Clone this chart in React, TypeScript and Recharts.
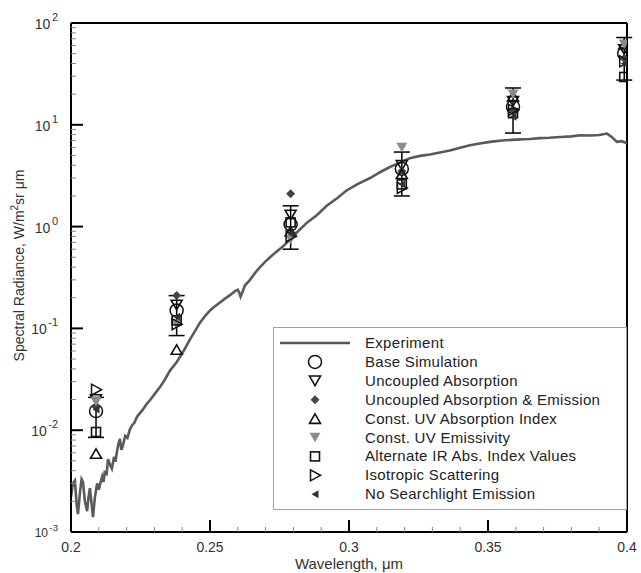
import React from 'react';
import { ComposedChart, Line, Scatter, XAxis, YAxis, ErrorBar, ReferenceLine, Legend } from 'recharts';

// ---------- data ----------
const wavelengths = [0.209, 0.238, 0.279, 0.319, 0.359, 0.399];
const baseSimulation = [0.0154, 0.15, 1.05, 3.7, 15, 50];
const errorLow = [0.0085, 0.085, 0.6, 2.0, 8.3, 27.5];
const errorHigh = [0.021, 0.21, 1.6, 5.4, 23, 72];
const uncoupledAbsorption = [0.02, 0.17, 1.3, 4.0, 17, 55];
const uncoupledAbsEmission = [0.017, 0.21, 2.1, 3.5, 14, 45];
const constUVAbsIndex = [0.0059, 0.062, 0.9, 3.3, 19, 62];
const constUVEmissivity = [0.019, 0.11, 0.75, 6.0, 20, 62];
const altIRAbsIndex = [0.0096, 0.12, 1.1, 2.6, 13, 29.5];
const isotropicScattering = [0.025, 0.11, 0.8, 2.4, 14, 42];
const noSearchlight = [0.016, 0.13, 0.85, 2.6, 12, 40];

const experimentWavelength = [
  0.2, 0.2007, 0.2014, 0.202, 0.2025, 0.2032, 0.2038, 0.2043, 0.205, 0.2058,
  0.2063, 0.2068, 0.2074, 0.2079, 0.2086, 0.2094, 0.21, 0.2104, 0.2112, 0.2117,
  0.2122, 0.2128, 0.2133, 0.214, 0.2147, 0.2155, 0.216, 0.2165, 0.217, 0.2176,
  0.2181, 0.2187, 0.2195, 0.2203, 0.2212, 0.222, 0.2228, 0.2237, 0.2248, 0.2259,
  0.227, 0.2284, 0.23, 0.232, 0.2338, 0.2356, 0.2381, 0.2405, 0.2428, 0.2446,
  0.2464, 0.2482, 0.25, 0.2518, 0.2536, 0.2554, 0.2572, 0.259, 0.26, 0.2606,
  0.261, 0.2616, 0.2626, 0.2644, 0.2662, 0.268, 0.2698, 0.2716, 0.274, 0.2763,
  0.279, 0.2813, 0.285, 0.2885, 0.292, 0.2957, 0.299, 0.3029, 0.3076, 0.311,
  0.3147, 0.3183, 0.3219, 0.3255, 0.3291, 0.3327, 0.3363, 0.34, 0.3435, 0.347,
  0.3507, 0.355, 0.36, 0.365, 0.3687, 0.372, 0.3759, 0.38, 0.3831, 0.387,
  0.39, 0.3928, 0.3945, 0.3964, 0.398, 0.4,
];
const experimentRadiance = [
  0.0022, 0.003, 0.0032, 0.0019, 0.0015, 0.0024, 0.0033, 0.0031, 0.002, 0.0016,
  0.0022, 0.0027, 0.0019, 0.0014, 0.0022, 0.003, 0.0026, 0.0029, 0.0035, 0.0031,
  0.004, 0.0036, 0.0052, 0.0046, 0.0042, 0.0055, 0.0049, 0.0061, 0.0072, 0.0082,
  0.0064, 0.0071, 0.0088, 0.0084, 0.0102, 0.0112, 0.0118, 0.0135, 0.0147, 0.016,
  0.0178, 0.0197, 0.0225, 0.0265, 0.0315, 0.0385, 0.047, 0.06, 0.078, 0.094,
  0.114, 0.132, 0.15, 0.165, 0.18, 0.196, 0.212, 0.232, 0.24, 0.222,
  0.205, 0.225, 0.265, 0.3, 0.35, 0.4, 0.45, 0.5, 0.57, 0.64,
  0.76, 0.88, 1.1, 1.3, 1.6, 1.9, 2.25, 2.6, 3.0, 3.4,
  3.85, 4.25, 4.7, 4.95, 5.1, 5.35, 5.6, 5.95, 6.3, 6.55,
  6.8, 7.0, 7.15, 7.25, 7.4, 7.45, 7.6, 7.7, 7.9, 7.85,
  7.95, 8.2, 7.6, 6.8, 6.9, 6.6,
];

const seriesNames = [
  'Experiment',
  'Base Simulation',
  'Uncoupled Absorption',
  'Uncoupled Absorption & Emission',
  'Const. UV Absorption Index',
  'Const. UV Emissivity',
  'Alternate IR Abs. Index Values',
  'Isotropic Scattering',
  'No Searchlight Emission',
];

const xMajorTicks = [0.2, 0.25, 0.3, 0.35, 0.4];
const xMajorLabels = ['0.2', '0.25', '0.3', '0.35', '0.4'];
const yDecades = [-3, -2, -1, 0, 1, 2];

// ---------- derived tables ----------
const experimentData = experimentWavelength.map((x, i) => ({ x, y: experimentRadiance[i] }));
const toPts = (vals: number[]) => wavelengths.map((x, i) => ({ x, y: vals[i] }));
const baseData = wavelengths.map((x, i) => ({
  x,
  y: baseSimulation[i],
  err: [baseSimulation[i] - errorLow[i], errorHigh[i] - baseSimulation[i]],
}));

const xTicks: number[] = [];
for (let i = 0; i <= 20; i++) xTicks.push(Number((0.2 + i * 0.01).toFixed(2)));
const yTicks: number[] = [];
yDecades.forEach((d, k) => {
  yTicks.push(Math.pow(10, d));
  if (k < yDecades.length - 1) for (let m = 2; m <= 9; m++) yTicks.push(Number((m * Math.pow(10, d)).toPrecision(3)));
});

const FONT = '"Liberation Sans", Arial, Helvetica, sans-serif';

// ---------- shapes ----------
const STROKE = '#111';
const circleShape = (p: any) => (
  <circle cx={p.cx} cy={p.cy} r={6.5} fill="none" stroke={STROKE} strokeWidth={1.5} />
);
const downTriOpen = (p: any) => {
  const { cx, cy } = p; const w = 5.5, h = 9.5;
  return <polygon points={`${cx - w},${cy - h / 2} ${cx + w},${cy - h / 2} ${cx},${cy + h / 2}`} fill="none" stroke={STROKE} strokeWidth={1.6} />;
};
const diamondShape = (p: any) => {
  const { cx, cy } = p; const r = 4.5;
  return <polygon points={`${cx},${cy - r} ${cx + r},${cy} ${cx},${cy + r} ${cx - r},${cy}`} fill="#454545" />;
};
const upTriOpen = (p: any) => {
  const { cx, cy } = p; const w = 5.5, h = 9.5;
  return <polygon points={`${cx - w},${cy + h / 2} ${cx + w},${cy + h / 2} ${cx},${cy - h / 2}`} fill="none" stroke={STROKE} strokeWidth={1.6} />;
};
const downTriGray = (p: any) => {
  const { cx, cy } = p; const w = 5.5, h = 9.5;
  return <polygon points={`${cx - w},${cy - h / 2} ${cx + w},${cy - h / 2} ${cx},${cy + h / 2}`} fill="#8c8c8c" />;
};
const squareOpen = (p: any) => {
  const { cx, cy } = p; const s = 9;
  return <rect x={cx - s / 2} y={cy - s / 2} width={s} height={s} fill="none" stroke={STROKE} strokeWidth={1.6} />;
};
const rightTriOpen = (p: any) => {
  const { cx, cy } = p;
  return <polygon points={`${cx - 4.5},${cy - 5.5} ${cx + 5.5},${cy} ${cx - 4.5},${cy + 5.5}`} fill="none" stroke={STROKE} strokeWidth={1.5} />;
};
const leftTriFilled = (p: any) => {
  const { cx, cy } = p;
  return <polygon points={`${cx + 3.5},${cy - 4} ${cx - 3.5},${cy} ${cx + 3.5},${cy + 4}`} fill="#333" />;
};

const legendShapes = [
  null,
  circleShape,
  downTriOpen,
  diamondShape,
  upTriOpen,
  downTriGray,
  squareOpen,
  rightTriOpen,
  leftTriFilled,
];

// ---------- ticks ----------
const YTick = (props: any) => {
  const { x, y, payload } = props;
  const v = payload.value;
  const e = Math.round(Math.log10(v));
  const major = Math.abs(v - Math.pow(10, e)) < 1e-9 * v;
  if (!major) {
    return <line x1={x} x2={x + 5} y1={y} y2={y} stroke="#888" strokeWidth={1} />;
  }
  const small = e === -3;
  return (
    <g>
      <line x1={x} x2={x + 12} y1={y} y2={y} stroke="#000" strokeWidth={2} />
      <text x={x - 13} y={y + (small ? 5 : 6)} textAnchor="end" fontFamily={FONT} fontSize={small ? 12 : 14} fill="#333">
        10<tspan dx={1.5} dy={small ? -6 : -8} fontSize={small ? 9.5 : 11}>{e}</tspan>
      </text>
    </g>
  );
};

const XTick = (props: any) => {
  const { x, y, payload } = props;
  const v = payload.value;
  const idx = xMajorTicks.findIndex((t) => Math.abs(t - v) < 1e-6);
  if (idx < 0) {
    return <line x1={x} x2={x} y1={y} y2={y - 5} stroke="#888" strokeWidth={1} />;
  }
  return (
    <g>
      <line x1={x} x2={x} y1={y} y2={y - 12} stroke="#000" strokeWidth={2} />
      <text x={x} y={y + 20} textAnchor="middle" fontFamily={FONT} fontSize={14} fill="#333">
        {xMajorLabels[idx]}
      </text>
    </g>
  );
};

const YTitle = (props: any) => {
  const vb = props.viewBox || { x: 0, y: 0, height: 0 };
  const cx = vb.x + 19;
  const cy = vb.y + vb.height / 2 - 12;
  return (
    <text transform={`translate(${cx},${cy}) rotate(-90)`} textAnchor="middle" dominantBaseline="central" fontFamily={FONT} fontSize={14} fill="#333">
      Spectral Radiance, W/m<tspan dy={-5} fontSize={10}>2</tspan><tspan dy={5}>sr μm</tspan>
    </text>
  );
};

const XTitle = (props: any) => {
  const vb = props.viewBox || { x: 0, y: 0, width: 0 };
  return (
    <text x={vb.x + vb.width / 2} y={vb.y + 37} textAnchor="middle" fontFamily={FONT} fontSize={15} fill="#333">
      Wavelength, μm
    </text>
  );
};

const LegendBox = () => {
  const rowY = (i: number) => 16 + i * 18.9;
  return (
    <svg width={354} height={183} style={{ display: 'block' }}>
      <rect x={0.5} y={0.5} width={353} height={182} fill="#fff" stroke="#a0a0a0" strokeWidth={1} />
      {seriesNames.map((name, i) => {
        const shape = legendShapes[i];
        return (
          <g key={name}>
            {i === 0 ? (
              <line x1={7} x2={77} y1={rowY(i)} y2={rowY(i)} stroke="#555" strokeWidth={2.5} />
            ) : (
              shape && shape({ cx: 42, cy: rowY(i) })
            )}
            <text x={92} y={rowY(i) + 5} fontFamily={FONT} fontSize={15} letterSpacing={0.3} fill="#222">
              {name}
            </text>
          </g>
        );
      })}
    </svg>
  );
};

export default function App() {
  return (
    <div style={{ position: 'absolute', left: 0, top: 0, width: 641, height: 573, background: '#fff' }}>
      <ComposedChart
        width={641}
        height={573}
        data={experimentData}
        margin={{ top: 23, right: 14, bottom: 0, left: 0 }}
      >
        <XAxis
          dataKey="x"
          type="number"
          domain={[0.2, 0.4]}
          allowDataOverflow
          ticks={xTicks}
          interval={0}
          tick={<XTick />}
          tickLine={false}
          tickSize={0}
          tickMargin={0}
          height={41}
          axisLine={{ stroke: '#000', strokeWidth: 2 }}
          label={<XTitle />}
        />
        <YAxis
          dataKey="y"
          type="number"
          scale="log"
          domain={[0.001, 100]}
          allowDataOverflow
          ticks={yTicks}
          interval={0}
          tick={<YTick />}
          tickLine={false}
          tickSize={0}
          tickMargin={0}
          width={71}
          axisLine={{ stroke: '#000', strokeWidth: 2 }}
          label={<YTitle />}
        />
        <ReferenceLine y={100} stroke="#000" strokeWidth={2} />
        <ReferenceLine x={0.4} stroke="#000" strokeWidth={2} />
        <Line
          dataKey="y"
          name="Experiment"
          type="linear"
          stroke="#5a5a5a"
          strokeWidth={2.6}
          dot={false}
          activeDot={false}
          isAnimationActive={false}
        />
        <Scatter name="Base Simulation" data={baseData} dataKey="y" shape={circleShape} isAnimationActive={false}>
          <ErrorBar dataKey="err" direction="y" width={8} stroke="#000" strokeWidth={1.5} isAnimationActive={false} />
        </Scatter>
        <Scatter name="Uncoupled Absorption" data={toPts(uncoupledAbsorption)} dataKey="y" shape={downTriOpen} isAnimationActive={false} />
        <Scatter name="Uncoupled Absorption & Emission" data={toPts(uncoupledAbsEmission)} dataKey="y" shape={diamondShape} isAnimationActive={false} />
        <Scatter name="Const. UV Absorption Index" data={toPts(constUVAbsIndex)} dataKey="y" shape={upTriOpen} isAnimationActive={false} />
        <Scatter name="Const. UV Emissivity" data={toPts(constUVEmissivity)} dataKey="y" shape={downTriGray} isAnimationActive={false} />
        <Scatter name="Alternate IR Abs. Index Values" data={toPts(altIRAbsIndex)} dataKey="y" shape={squareOpen} isAnimationActive={false} />
        <Scatter name="Isotropic Scattering" data={toPts(isotropicScattering)} dataKey="y" shape={rightTriOpen} isAnimationActive={false} />
        <Scatter name="No Searchlight Emission" data={toPts(noSearchlight)} dataKey="y" shape={leftTriFilled} isAnimationActive={false} />
        <Legend
          layout="vertical"
          align="center"
          verticalAlign="middle"
          content={<LegendBox />}
          wrapperStyle={{ left: 273, top: 327, width: 354, height: 183, right: 'auto', bottom: 'auto' }}
        />
      </ComposedChart>
    </div>
  );
}
